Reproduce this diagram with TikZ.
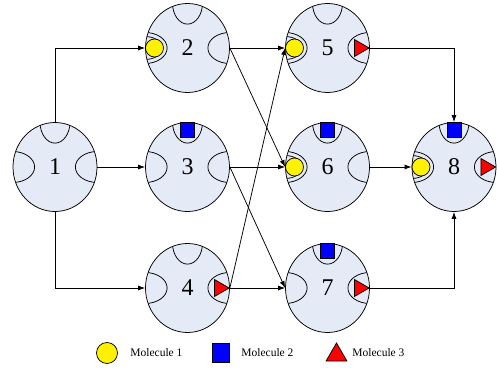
\documentclass[tikz,border=0pt]{standalone}
\usepackage{fontspec}
\setmainfont{Liberation Serif}
\usetikzlibrary{shapes.geometric,positioning,arrows.meta}
\definecolor{cellblue}{RGB}{228,235,246}

\begin{document}
\begin{tikzpicture}[x=1pt,y=-1pt,line width=0.75pt,
  cell/.style={draw, ellipse, fill=cellblue, minimum width=84pt, minimum height=89pt, inner sep=0pt, font=\fontsize{24}{24}\selectfont},
  flow/.style={draw, -{Latex[length=7pt,width=5pt]}},
  mola/.style={draw, circle, fill=yellow, minimum size=18pt, inner sep=0pt},
  molb/.style={draw, rectangle, fill=blue, minimum width=14pt, minimum height=15pt, inner sep=0pt},
  molc/.style={draw, regular polygon, regular polygon sides=3, shape border rotate=-90, fill=red, minimum size=19.6pt, inner sep=0pt},
  legend/.style={anchor=west, inner sep=0pt, font=\fontsize{11.5}{12}\selectfont}]
\useasboundingbox (0,0) rectangle (497,371);

\node[cell] (1) at (55,167) {1};
\node[cell] (2) at (187.5,48) {2};
\node[cell] (3) at (187.5,167) {3};
\node[cell] (4) at (187.5,288) {4};
\node[cell] (5) at (327.5,48) {5};
\node[cell] (6) at (327.5,167) {6};
\node[cell] (7) at (327.5,288) {7};
\node[cell] (8) at (454,167) {8};

% binding pockets, cut off at the cell border
\foreach \n in {1,...,8}{
  \begin{scope}
    \clip (\n.center) ellipse [x radius=42pt, y radius=44.5pt];
    \draw (\n.north) ellipse [x radius=15pt, y radius=21pt];
    \draw (\n.west) ellipse [x radius=22pt, y radius=15.5pt];
    \draw (\n.east) ellipse [x radius=22pt, y radius=15.5pt];
  \end{scope}
}
\foreach \n in {2,5,6,8}{
  \begin{scope}
    \clip (\n.center) ellipse [x radius=42pt, y radius=44.5pt];
    \draw (\n.west) ellipse [x radius=17pt, y radius=11.5pt];
  \end{scope}
}

% molecules sitting in the pockets
\node[mola, right=0pt of 2.west] (y2) {};
\node[mola, right=0pt of 5.west] (y5) {};
\node[mola, right=0pt of 6.west] (y6) {};
\node[mola, right=0pt of 8.west] (y8) {};
\node[molb, below=0pt of 3.north] (b3) {};
\node[molb, below=0pt of 6.north] (b6) {};
\node[molb, below=0pt of 7.north] (b7) {};
\node[molb, below=0pt of 8.north] (b8) {};
\node[molc, left=0pt of 4.east] (r4) {};
\node[molc, left=0pt of 5.east] (r5) {};
\node[molc, left=0pt of 7.east] (r7) {};
\node[molc, left=0pt of 8.east] (r8) {};

\path[flow] (1.north) |- (2.west);
\path[flow] (1.east) -- (3.west);
\path[flow] (1.south) |- (4.west);
\path[flow] (2.east) -- (5.west);
\path[flow] (2.east) -- (6.west);
\path[flow] (3.east) -- (6.west);
\path[flow] (3.east) -- (7.west);
\path[flow] (4.east) -- (5.west);
\path[flow] (4.east) -- (7.west);
\path[flow] (5.east) -| (8.north);
\path[flow] (6.east) -- (8.west);
\path[flow] (7.east) -| (8.south);

% legend
\node[mola, minimum size=21pt] (leg1) at (107,353) {};
\node[legend] (txt1) at (130,353) {Molecule 1};
\node[molb, minimum width=17pt, minimum height=19pt] (leg2) at (220.5,352.5) {};
\node[legend] (txt2) at (241,353) {Molecule 2};
\node[molc, shape border rotate=0, minimum size=24pt] (leg3) at (336.5,355) {};
\node[legend] (txt3) at (352,353) {Molecule 3};
\end{tikzpicture}
\end{document}
